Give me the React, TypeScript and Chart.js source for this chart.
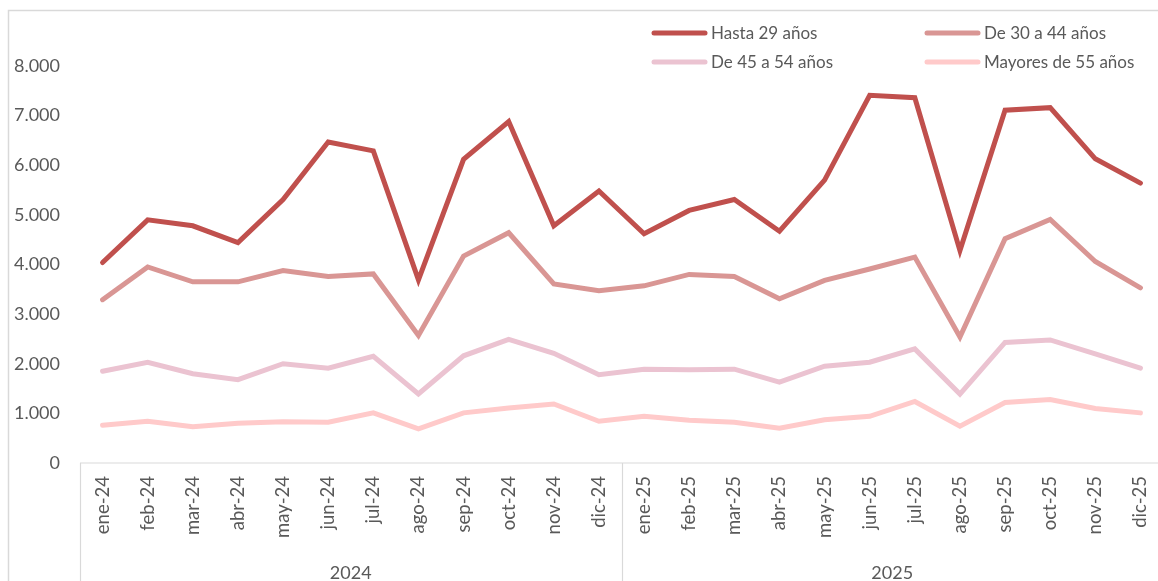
import { useEffect, useRef } from "react";
import { Chart, registerables } from "chart.js";

Chart.register(...registerables);

const months = ["ene", "feb", "mar", "abr", "may", "jun", "jul", "ago", "sep", "oct", "nov", "dic"];
const years = ["2024", "2025"];
const categories = years.flatMap((y) => months.map((m) => `${m}-${y.slice(2)}`));

const hasta29 = [4040, 4900, 4780, 4440, 5310, 6470, 6290, 3690, 6120, 6880, 4780, 5480,
  4620, 5090, 5310, 4670, 5700, 7410, 7360, 4280, 7110, 7160, 6130, 5640];
const de30a44 = [3290, 3950, 3650, 3650, 3880, 3760, 3810, 2570, 4170, 4640, 3610, 3470,
  3570, 3800, 3760, 3310, 3680, 3910, 4150, 2540, 4520, 4910, 4060, 3530];
const de45a54 = [1850, 2030, 1800, 1680, 2000, 1910, 2150, 1390, 2160, 2490, 2210, 1780,
  1890, 1880, 1890, 1630, 1950, 2030, 2300, 1390, 2430, 2480, 2200, 1910];
const mayores55 = [760, 840, 730, 800, 830, 820, 1010, 690, 1010, 1110, 1190, 840,
  940, 860, 820, 700, 870, 940, 1240, 740, 1220, 1280, 1100, 1010];

const seriesNames = ["Hasta 29 años", "De 30 a 44 años", "De 45 a 54 años", "Mayores de 55 años"];
const seriesColors = ["#C0504D", "#D99694", "#EBC3D1", "#FFCACA"];
const yTicks = [0, 1000, 2000, 3000, 4000, 5000, 6000, 7000, 8000];

const FONT = "Lato, 'Open Sans', sans-serif";
const TEXT = "#595959";
const GRID = "#D9D9D9";

const fmt = (v: number) => String(v).replace(/\B(?=(\d{3})+(?!\d))/g, ".");

const decoPlugin = {
  id: "deco",
  afterDraw(chart: any) {
    const ctx = chart.ctx;
    const xs = chart.scales.x;
    const n = categories.length;
    const step = xs.getPixelForTick(1) - xs.getPixelForTick(0);
    const edge = (i: number) => xs.getPixelForTick(i) - step / 2;
    const axisY = chart.chartArea.bottom;
    const h = chart.height;
    ctx.save();
    ctx.strokeStyle = GRID;
    ctx.lineWidth = 1.5;
    // outer chart border
    ctx.beginPath();
    ctx.moveTo(8.5, h);
    ctx.lineTo(8.5, 10.5);
    ctx.lineTo(chart.width, 10.5);
    ctx.stroke();
    // category axis line
    ctx.lineWidth = 1.2;
    ctx.beginPath();
    ctx.moveTo(edge(0), axisY);
    ctx.lineTo(edge(n - 1) + step, axisY);
    ctx.stroke();
    // group separators
    const per = months.length;
    for (let g = 0; g <= years.length; g++) {
      const x = g < years.length ? edge(g * per) : edge(n - 1) + step;
      ctx.beginPath();
      ctx.moveTo(Math.round(x) + 0.5, axisY);
      ctx.lineTo(Math.round(x) + 0.5, h);
      ctx.stroke();
    }
    // group labels
    ctx.fillStyle = TEXT;
    ctx.font = `18px ${FONT}`;
    ctx.textAlign = "center";
    ctx.textBaseline = "middle";
    years.forEach((y, g) => {
      const a = edge(g * per);
      const b = edge(g * per + per - 1) + step;
      ctx.fillText(y, (a + b) / 2, 573);
    });
    // legend
    const pos = [
      [652, 33], [925, 33], [652, 62], [925, 62],
    ];
    ctx.font = `17px ${FONT}`;
    ctx.textAlign = "left";
    ctx.lineCap = "round";
    chart.data.datasets.forEach((ds: any, i: number) => {
      const [x, y] = pos[i];
      ctx.strokeStyle = ds.borderColor;
      ctx.lineWidth = 5;
      ctx.beginPath();
      ctx.moveTo(x + 2, y);
      ctx.lineTo(x + 53, y);
      ctx.stroke();
      ctx.fillStyle = TEXT;
      ctx.fillText(ds.label, x + 59, y + 1);
    });
    ctx.restore();
  },
};

export default function App() {
  const ref = useRef<HTMLCanvasElement | null>(null);
  useEffect(() => {
    if (!ref.current) return;
    const datasetsData = [hasta29, de30a44, de45a54, mayores55];
    const chart = new Chart(ref.current, {
      type: "line",
      data: {
        labels: categories,
        datasets: datasetsData.map((d, i) => ({
          label: seriesNames[i],
          data: d,
          borderColor: seriesColors[i],
          backgroundColor: seriesColors[i],
          borderWidth: 5,
          pointRadius: 0,
          tension: 0,
          borderCapStyle: "round" as const,
          borderJoinStyle: "miter" as const,
          fill: false,
          order: i,
        })),
      },
      options: {
        responsive: false,
        animation: false,
        devicePixelRatio: 1,
        layout: { padding: { top: 66, left: 0, right: 0, bottom: 0 } },
        plugins: { legend: { display: false }, tooltip: { enabled: false } },
        scales: {
          x: {
            type: "category",
            offset: true,
            grid: { display: false, drawTicks: false },
            border: { display: false },
            ticks: {
              autoSkip: false,
              minRotation: 90,
              maxRotation: 90,
              padding: 13,
              color: TEXT,
              font: { family: FONT, size: 18.5 },
            },
            afterFit: (s: any) => {
              s.height = 118;
              s.paddingLeft = 0;
              s.paddingRight = 0;
            },
          },
          y: {
            min: 0,
            max: 8000,
            grid: { display: false, drawTicks: false },
            border: { display: false },
            afterBuildTicks: (s: any) => {
              s.ticks = yTicks.map((v) => ({ value: v }));
            },
            ticks: {
              padding: 20,
              color: TEXT,
              font: { family: FONT, size: 18 },
              callback: (v: any) => fmt(Number(v)),
            },
            afterFit: (s: any) => {
              s.width = 80;
            },
          },
        },
      },
      plugins: [decoPlugin],
    });
    return () => chart.destroy();
  }, []);
  return (
    <div style={{ position: "fixed", left: 0, top: 0, width: 1158, height: 581, overflow: "hidden", background: "#fff" }}>
      <canvas ref={ref} width={1163} height={581} style={{ display: "block", width: 1163, height: 581 }} />
    </div>
  );
}
